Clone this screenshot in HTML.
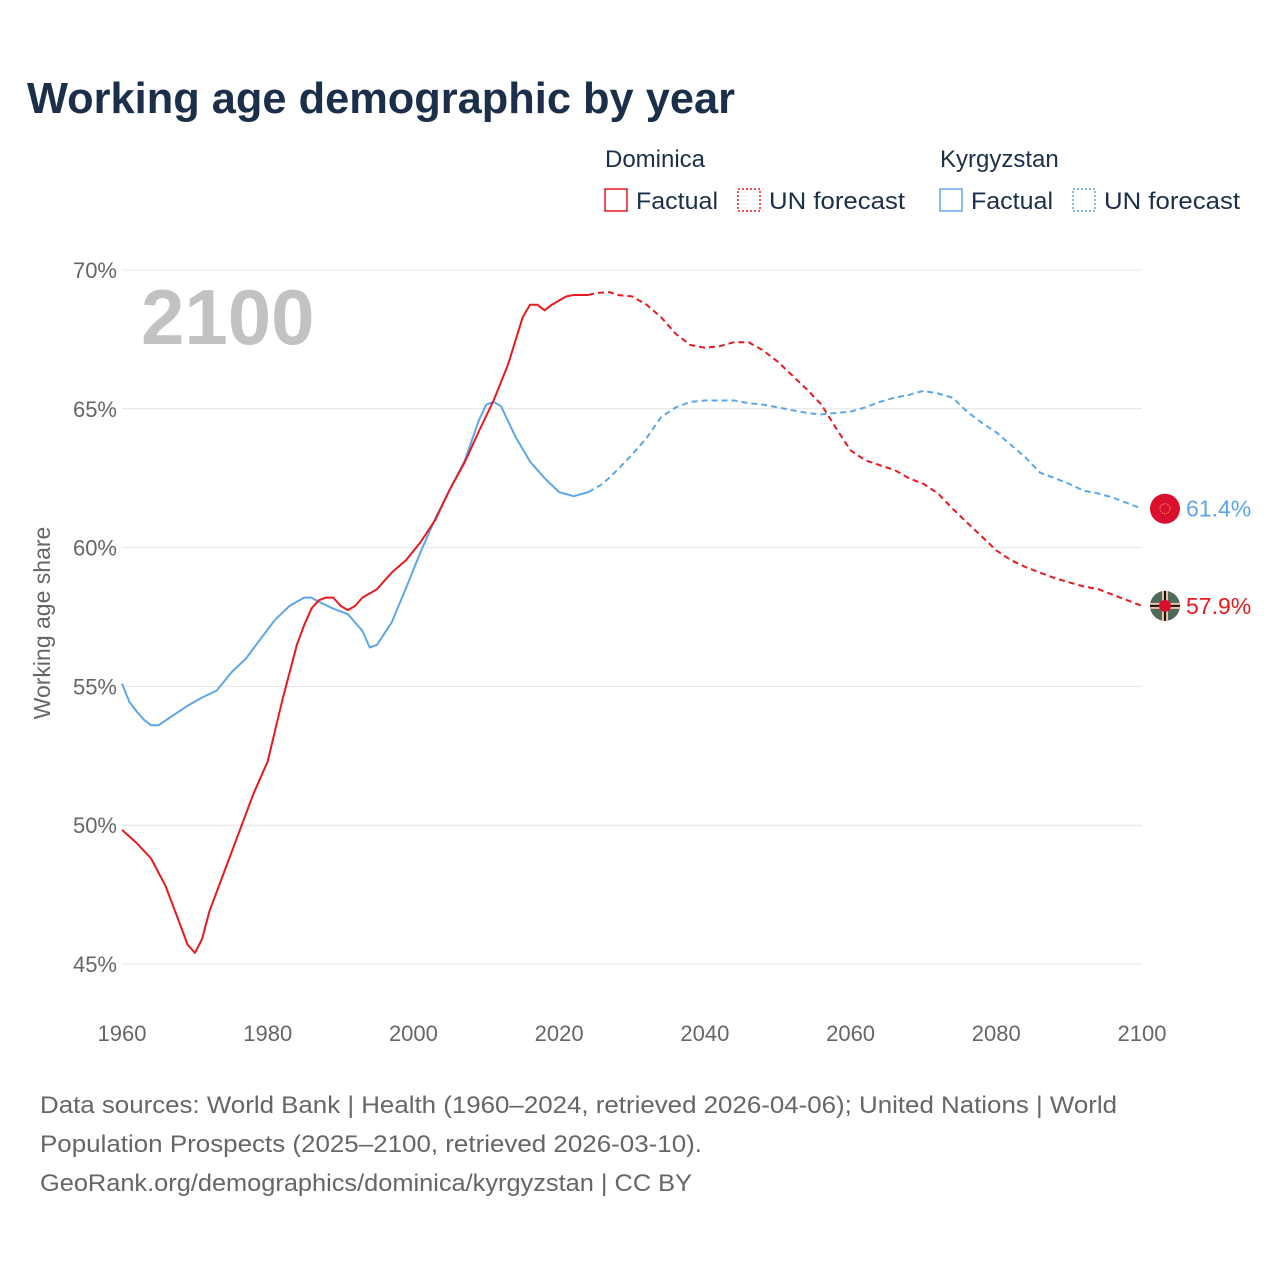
<!DOCTYPE html>
<html><head><meta charset="utf-8"><style>
body{margin:0;background:#fff;font-family:"Liberation Sans",sans-serif;}
#wrap{position:relative;width:1280px;height:1280px;overflow:hidden;background:#fff}
</style></head><body>
<div id="wrap">
<svg id="chart" width="1280" height="1280" style="position:absolute;left:0;top:0"></svg>
</div>
<script>
const yearsD=[1960,1962,1964,1966,1968,1969,1970,1971,1972,1974,1976,1978,1980,1982,1984,1985,1986,1987,1988,1989,1990,1991,1992,1993,1995,1997,1999,2001,2003,2005,2007,2009,2011,2013,2015,2016,2017,2018,2019,2020,2021,2022,2024];
const valsD=[49.83,49.36,48.8,47.8,46.4,45.7,45.4,45.9,46.9,48.3,49.7,51.1,52.3,54.5,56.5,57.2,57.8,58.1,58.2,58.2,57.9,57.75,57.9,58.2,58.5,59.1,59.55,60.2,61.0,62.1,63.05,64.2,65.3,66.6,68.3,68.75,68.75,68.55,68.75,68.9,69.05,69.1,69.1];
const yearsDF=[2024,2025,2027,2028,2030,2032,2034,2036,2038,2040,2042,2044,2046,2048,2050,2052,2054,2056,2058,2060,2062,2064,2066,2068,2070,2072,2074,2076,2078,2080,2082,2084,2086,2088,2090,2092,2094,2096,2098,2100];
const valsDF=[69.1,69.17,69.2,69.1,69.05,68.75,68.3,67.7,67.3,67.2,67.25,67.4,67.4,67.1,66.7,66.2,65.7,65.15,64.3,63.5,63.15,62.97,62.8,62.5,62.3,61.95,61.4,60.9,60.4,59.9,59.55,59.3,59.1,58.9,58.75,58.6,58.5,58.3,58.1,57.9];
const yearsK=[1960,1961,1962,1963,1964,1965,1967,1969,1971,1973,1975,1977,1979,1981,1983,1985,1986,1987,1989,1991,1993,1994,1995,1997,1999,2001,2003,2005,2007,2009,2010,2011,2012,2014,2016,2018,2020,2022,2024];
const valsK=[55.1,54.45,54.1,53.8,53.6,53.6,53.95,54.3,54.6,54.85,55.5,56.0,56.7,57.4,57.9,58.2,58.2,58.05,57.8,57.6,57.0,56.4,56.5,57.3,58.55,59.85,61.05,62.1,63.1,64.6,65.15,65.25,65.1,64.0,63.1,62.5,62.0,61.85,62.0];
const yearsKF=[2024,2026,2028,2030,2032,2034,2036,2038,2040,2042,2044,2046,2048,2050,2052,2054,2056,2058,2060,2062,2064,2066,2068,2070,2072,2074,2076,2078,2080,2082,2084,2086,2088,2090,2092,2094,2096,2098,2100];
const valsKF=[62.0,62.3,62.8,63.35,63.95,64.7,65.05,65.25,65.3,65.3,65.3,65.2,65.15,65.05,64.95,64.85,64.8,64.85,64.9,65.05,65.25,65.4,65.5,65.65,65.55,65.4,64.9,64.5,64.15,63.7,63.25,62.7,62.5,62.3,62.05,61.95,61.8,61.6,61.4];
const yTicks=[45,50,55,60,65,70];
const xTicks=[1960,1980,2000,2020,2040,2060,2080,2100];

const NS="http://www.w3.org/2000/svg";
const svg=document.getElementById('chart');
const X=y=>122+(y-1960)*(1020/140);
const Y=v=>964-(v-45)*(694/25);
function el(tag,attrs,parent){const e=document.createElementNS(NS,tag);for(const k in attrs)e.setAttribute(k,attrs[k]);(parent||svg).appendChild(e);return e;}
function txt(s,attrs){const t=el('text',attrs);t.textContent=s;return t;}

let t;
t=txt('Working age demographic by year',{x:27,y:113,'font-size':44,'font-weight':'bold',fill:'#1b2f4b',textLength:708,lengthAdjust:'spacingAndGlyphs'});



const leg=[['Dominica',605,'#e8191f'],['Kyrgyzstan',940,'#5ea6e8']];
leg.forEach(([name,x0,c])=>{
  t=txt(name,{x:x0,y:167,'font-size':24,fill:'#1b2f4b'});
  
  
  let r=el('rect',{x:x0,y:189,width:22,height:22,fill:'none',stroke:c,'stroke-width':1.5});
  
  
  t=txt('Factual',{x:x0+31,y:209,'font-size':24,fill:'#1b2f4b',textLength:82,lengthAdjust:'spacingAndGlyphs'});
  
  
  r=el('rect',{x:x0+133,y:189,width:22,height:22,fill:'none',stroke:c,'stroke-width':1.5,'stroke-dasharray':'2,2'});
  
  
  t=txt('UN forecast',{x:x0+164,y:209,'font-size':24,fill:'#1b2f4b',textLength:136,lengthAdjust:'spacingAndGlyphs'});
  
  
});

yTicks.forEach(v=>{
  const g=el('line',{x1:122,x2:1142,y1:Y(v),y2:Y(v),stroke:'#e4e4e4','stroke-width':1});
  
  
  t=txt(v+'%',{x:117,y:Y(v)+8,'font-size':22,fill:'#666','text-anchor':'end'});
  
  
});
xTicks.forEach(yr=>{
  t=txt(String(yr),{x:X(yr),y:1041,'font-size':22,fill:'#666','text-anchor':'middle'});
  
  
});
t=txt('Working age share',{x:0,y:0,'font-size':23,fill:'#666','text-anchor':'middle',transform:'translate(50,623) rotate(-90)'});



t=txt('2100',{x:141,y:344,'font-size':78,'font-weight':'bold',fill:'#c2c2c2'});



function path(xs,vs){return xs.map((y,i)=>(i?'L':'M')+X(y).toFixed(1)+','+Y(vs[i]).toFixed(1)).join(' ');}
let p;
p=el('path',{d:path(yearsKF,valsKF),fill:'none',stroke:'#5ea6e8','stroke-width':2,'stroke-dasharray':'6,4'});


p=el('path',{d:path(yearsK,valsK),fill:'none',stroke:'#5ea6e8','stroke-width':2,'stroke-linejoin':'round'});


p=el('path',{d:path(yearsDF,valsDF),fill:'none',stroke:'#e8191f','stroke-width':2,'stroke-dasharray':'6,4'});


p=el('path',{d:path(yearsD,valsD),fill:'none',stroke:'#e8191f','stroke-width':2,'stroke-linejoin':'round'});



const kEnd=valsKF[valsKF.length-1], dEnd=valsDF[valsDF.length-1];
let ky=Y(kEnd), dy=Y(dEnd);
let c=el('circle',{cx:1165,cy:ky,r:15,fill:'#d90f2d'});


el('circle',{cx:1165,cy:ky,r:5,fill:'none',stroke:'#f4a060','stroke-width':1,'stroke-dasharray':'1,1'});
t=txt(kEnd.toFixed(1)+'%',{x:1186,y:ky+8,'font-size':23,fill:'#5ea6e8'});


c=el('circle',{cx:1165,cy:dy,r:15,fill:'#4e6a58'});


el('rect',{x:1150,y:dy-3,width:30,height:6,fill:'#f0c0a0'});
el('rect',{x:1162,y:dy-15,width:6,height:30,fill:'#f0c0a0'});
el('rect',{x:1150,y:dy-1,width:30,height:2,fill:'#111'});
el('rect',{x:1164,y:dy-15,width:2,height:30,fill:'#111'});
el('circle',{cx:1165,cy:dy,r:6,fill:'#d90f2d'});
t=txt(dEnd.toFixed(1)+'%',{x:1186,y:dy+8,'font-size':23,fill:'#e8191f'});



const foot=['Data sources: World Bank | Health (1960–2024, retrieved 2026-04-06); United Nations | World','Population Prospects (2025–2100, retrieved 2026-03-10).','GeoRank.org/demographics/dominica/kyrgyzstan | CC BY'];
const footW=[1077,662,652];
foot.forEach((s,i)=>{
  t=txt(s,{x:40,y:1113+i*39,'font-size':24,fill:'#666',textLength:footW[i],lengthAdjust:'spacingAndGlyphs'});
  
  
});
</script>
</body></html>
